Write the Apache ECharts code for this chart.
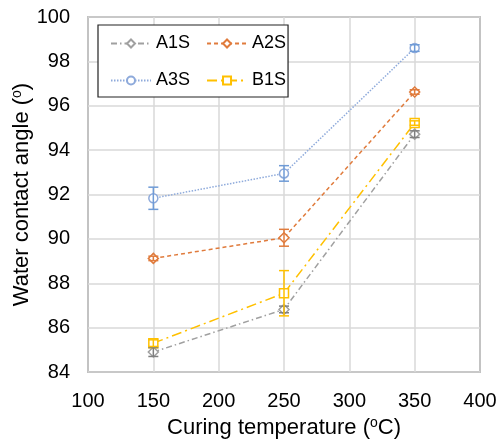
<!DOCTYPE html>
<html>
<head>
<meta charset="utf-8">
<script src="https://cdn.jsdelivr.net/npm/echarts@6/dist/echarts.min.js"></script>
<style>
html,body{margin:0;padding:0;background:#fff;}
#chart{width:501px;height:439px;}
</style>
</head>
<body>
<div id="chart"></div>
<script>
const temps = [150, 250, 350];
const a1s = [84.9, 86.82, 94.72];
const a1sErr = [0.2, 0.15, 0.15];
const a2s = [89.12, 90.05, 96.62];
const a2sErr = [0.1, 0.38, 0.1];
const a3s = [91.83, 92.95, 98.6];
const a3sErr = [0.5, 0.35, 0.15];
const b1s = [85.3, 87.55, 95.22];
const b1sErr = [0.15, 1.02, 0.1];
const xTicks = [100, 150, 200, 250, 300, 350, 400];
const yTicks = [84, 86, 88, 90, 92, 94, 96, 98, 100];

const FONT = 'Liberation Sans, Arial, sans-serif';

function pts(ys) { return temps.map((t, i) => [t, ys[i]]); }
function errPts(ys, es) { return temps.map((t, i) => [t, ys[i], es[i]]); }

function lineSeries(name, ys, color, dash, symbol, size) {
  return {
    name: name, type: 'line', data: pts(ys), symbol: symbol, symbolSize: size,
    lineStyle: { color: color, width: 1.5, type: dash },
    itemStyle: { color: '#fff', borderColor: color, borderWidth: 1.5 },
    z: 3, animation: false
  };
}
function errSeries(name, ys, es, color) {
  return {
    name: name, type: 'custom', data: errPts(ys, es), z: 4, animation: false,
    renderItem: function (params, api) {
      const x = api.value(0), y = api.value(1), e = api.value(2);
      const t = api.coord([x, y + e]);
      const b = api.coord([x, y - e]);
      const w = 5;
      const st = { stroke: color, lineWidth: 1.5 };
      return { type: 'group', children: [
        { type: 'line', shape: { x1: t[0], y1: t[1], x2: b[0], y2: b[1] }, style: st },
        { type: 'line', shape: { x1: t[0] - w, y1: t[1], x2: t[0] + w, y2: t[1] }, style: st },
        { type: 'line', shape: { x1: b[0] - w, y1: b[1], x2: b[0] + w, y2: b[1] }, style: st }
      ]};
    }
  };
}

const cA1 = '#a0a0a0', cA2 = '#e07b3c', cA3 = '#8eaadb', cB1 = '#ffc000';

const chart = echarts.init(document.getElementById('chart'), null, { renderer: 'canvas' });
chart.setOption({
  backgroundColor: '#fff',
  animation: false,
  textStyle: { fontFamily: FONT },
  grid: { left: 88, right: 21, top: 17, bottom: 67, show: true, borderColor: '#333', borderWidth: 1.2,
    backgroundColor: 'transparent', containLabel: false, outerBoundsMode: 'none' },
  legend: {
    data: ['A1S', 'A2S', 'A3S', 'B1S'],
    left: 98, top: 25, width: 200,
    padding: [8, 2, 6, 12],
    itemWidth: 40, itemHeight: 10, itemGap: 16,
    borderColor: '#222', borderWidth: 1.2, backgroundColor: '#fff',
    textStyle: { fontSize: 18, lineHeight: 21, color: '#000', fontFamily: FONT }
  },
  xAxis: {
    type: 'value', min: xTicks[0], max: xTicks[xTicks.length - 1], interval: 50,
    name: 'Curing temperature ({s|o}C)', nameLocation: 'middle', nameGap: 44, nameMoveOverlap: false,
    nameTextStyle: { fontSize: 22, color: '#000', fontFamily: FONT,
      rich: { s: { fontSize: 14, verticalAlign: 'top', padding: [0, 0, 9, 0], color: '#000', fontFamily: FONT } } },
    axisLine: { show: false }, axisTick: { show: false },
    axisLabel: { fontSize: 20, color: '#000', margin: 19, fontFamily: FONT },
    splitLine: { show: true, lineStyle: { color: '#d9d9d9', width: 1.5 } }
  },
  yAxis: {
    type: 'value', min: yTicks[0], max: yTicks[yTicks.length - 1], interval: 2,
    name: 'Water contact angle ({s|o})', nameLocation: 'middle', nameGap: 55, nameRotate: 90, nameMoveOverlap: false,
    nameTextStyle: { fontSize: 22, color: '#000', fontFamily: FONT,
      rich: { s: { fontSize: 14, verticalAlign: 'top', padding: [0, 0, 9, 0], color: '#000', fontFamily: FONT } } },
    axisLine: { show: false }, axisTick: { show: false },
    axisLabel: { fontSize: 20, color: '#000', margin: 18, fontFamily: FONT },
    splitLine: { show: true, lineStyle: { color: '#d9d9d9', width: 1.5 } }
  },
  series: [
    lineSeries('A1S', a1s, cA1, [6, 3, 1.5, 3], 'diamond', 10),
    lineSeries('A2S', a2s, cA2, [4, 3], 'diamond', 10),
    lineSeries('A3S', a3s, cA3, [1.5, 1.5], 'circle', 9),
    lineSeries('B1S', b1s, cB1, [10, 4, 2, 4], 'rect', 9),
    errSeries('A1S err', a1s, a1sErr, '#7f7f7f'),
    errSeries('A2S err', a2s, a2sErr, '#e07b3c'),
    errSeries('A3S err', a3s, a3sErr, '#6f9bd6'),
    errSeries('B1S err', b1s, b1sErr, '#ffc000')
  ]
});
</script>
</body>
</html>
